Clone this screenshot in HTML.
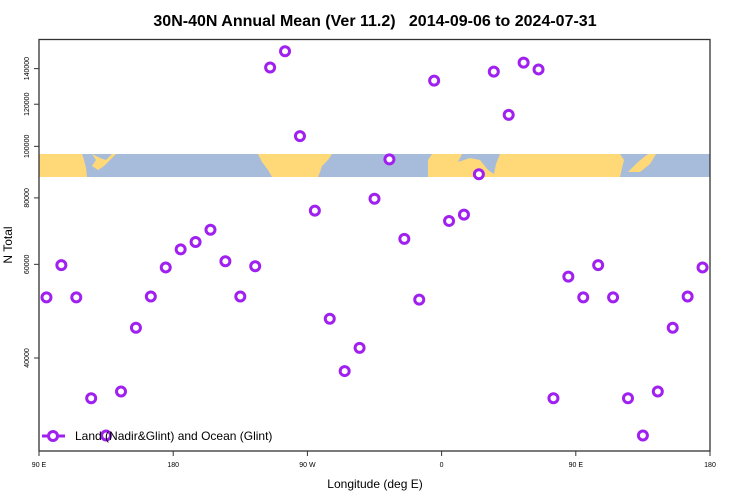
<!DOCTYPE html>
<html><head><meta charset="utf-8"><style>
body{margin:0;background:#fff;font-family:"Liberation Sans",sans-serif}
svg{display:block}
</style></head><body>
<svg id="chart" width="750" height="500">
<text x="375" y="26" text-anchor="middle" font-size="16" font-weight="bold" xml:space="preserve">30N-40N Annual Mean (Ver 11.2)   2014-09-06 to 2024-07-31</text>
<g>
<rect x="39" y="154" width="671" height="23" fill="#a7bcdb"/>
<polygon fill="#ffd878" points="39,154 82,154 84,160 86,168 87,177 39,177"/>
<polygon fill="#ffd878" points="92,154 96,160 92,166 98,170 104,166 110,160 116,154 112,154 106,160 100,158"/>
<polygon fill="#ffd878" points="258,154 332,154 328,160 322,166 320,172 318,177 272,177 268,170 262,162"/>
<polygon fill="#ffd878" points="428,160 432,154 462,154 458,162 470,158 480,160 488,170 494,174 496,164 500,154 620,154 624,160 622,168 620,177 428,177"/>
<polygon fill="#ffd878" points="628,172 638,162 648,154 656,154 650,164 640,172"/>
</g>
<g id="axes"></g>
<g id="points"></g>
<rect x="39" y="39.5" width="671" height="411.5" fill="none" stroke="#333" stroke-width="1.3"/>
<text x="375" y="488" text-anchor="middle" font-size="12">Longitude (deg E)</text>
<text transform="translate(12,245) rotate(-90)" text-anchor="middle" font-size="12">N Total</text>
<g>
<line x1="42" y1="436" x2="65" y2="436" stroke="#a020f0" stroke-width="3"/>
<circle cx="53" cy="436" r="4.5" fill="#fff" stroke="#a020f0" stroke-width="3"/>
<text x="75" y="440" font-size="12">Land (Nadir&amp;Glint) and Ocean (Glint)</text>
</g>
</svg>
<script>
const lons=[95,105,115,125,135,145,155,165,175,185,195,205,215,225,235,245,255,265,275,285,295,305,315,325,335,345,355,365,375,385,395,405,415,425,435,445,455,465,475,485,495,505,515,525,535];
const values=[52000,59800,52000,33600,28600,34600,45600,52200,59200,64000,66100,69700,60800,52200,59500,140700,150900,104500,75700,47400,37800,41800,79700,94500,67000,51500,132900,72400,74400,88600,138200,114600,143700,139500,33600,56900,52000,59800,52000,33600,28600,34600,45600,52200,59200];
const yTicks=[40000,60000,80000,100000,120000,140000];
const xTickLons=[90,180,270,360,450,540];
const xTickLabels=["90 E","180","90 W","0","90 E","180"];
const NS="http://www.w3.org/2000/svg";
function xs(l){return 39+(l-90)*671/450;}
function ys(v){return 358-231*Math.log(v/40000);}
const ax=document.getElementById('axes');
yTicks.forEach(t=>{
 const y=ys(t);
 const ln=document.createElementNS(NS,'line');
 ln.setAttribute('x1',34);ln.setAttribute('x2',39);ln.setAttribute('y1',y);ln.setAttribute('y2',y);ln.setAttribute('stroke','#333');
 
 
 ax.appendChild(ln);
 const tx=document.createElementNS(NS,'text');
 tx.setAttribute('transform','translate(29,'+y+') rotate(-90)');tx.setAttribute('text-anchor','middle');tx.setAttribute('font-size','7');
 tx.textContent=t;
 
 
 ax.appendChild(tx);
});
xTickLons.forEach((l,i)=>{
 const x=xs(l);
 const ln=document.createElementNS(NS,'line');
 ln.setAttribute('x1',x);ln.setAttribute('x2',x);ln.setAttribute('y1',451);ln.setAttribute('y2',456);ln.setAttribute('stroke','#333');
 
 
 ax.appendChild(ln);
 const tx=document.createElementNS(NS,'text');
 tx.setAttribute('x',x);tx.setAttribute('y',467);tx.setAttribute('text-anchor','middle');tx.setAttribute('font-size','7');
 tx.textContent=xTickLabels[i];
 
 
 ax.appendChild(tx);
});
const pg=document.getElementById('points');
lons.forEach((l,i)=>{
 const c=document.createElementNS(NS,'circle');
 c.setAttribute('cx',xs(l));c.setAttribute('cy',ys(values[i]));c.setAttribute('r',4.5);
 c.setAttribute('fill','#fff');c.setAttribute('stroke','#a020f0');c.setAttribute('stroke-width',3);
 
 
 pg.appendChild(c);
});
</script>
</body></html>
